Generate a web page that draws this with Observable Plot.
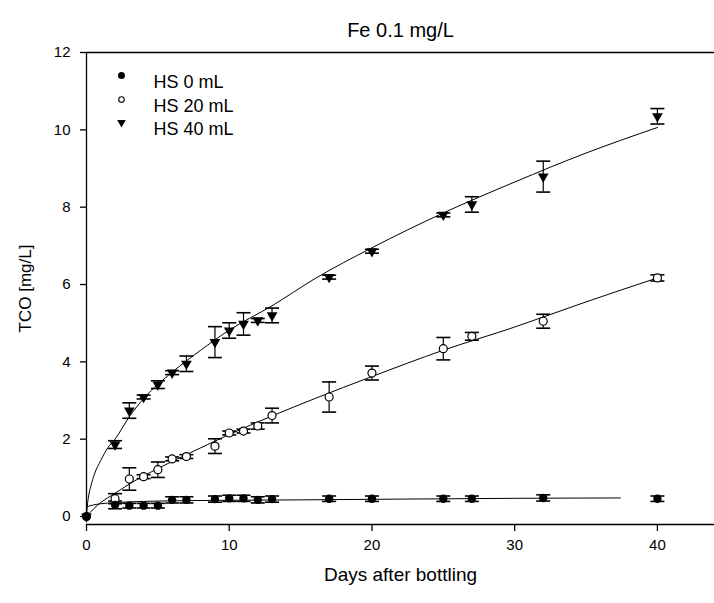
<!DOCTYPE html>
<html>
<head>
<meta charset="utf-8">
<script src="https://cdn.jsdelivr.net/npm/d3@7"></script>
<script src="https://cdn.jsdelivr.net/npm/@observablehq/plot@0.6"></script>
<style>
  html, body { margin: 0; padding: 0; background: white; }
  #chart { width: 714px; height: 603px; }
</style>
</head>
<body>
<div id="chart"></div>
<script>
// ---- data ----
const titleText = "Fe 0.1 mg/L";
const xLabel = "Days after bottling";
const yLabel = "TCO [mg/L]";
const seriesNames = ["HS 0 mL", "HS 20 mL", "HS 40 mL"];
const days = [0, 2, 3, 4, 5, 6, 7, 9, 10, 11, 12, 13, 17, 20, 25, 27, 32, 40];

const hs0 = [0, 0.30, 0.28, 0.28, 0.28, 0.43, 0.43, 0.45, 0.47, 0.47, 0.43, 0.45, 0.46, 0.46, 0.46, 0.46, 0.48, 0.46];
const hs0Err = [0, 0.10, 0.06, 0.06, 0.06, 0.08, 0.08, 0.08, 0.08, 0.08, 0.08, 0.08, 0.07, 0.07, 0.07, 0.07, 0.08, 0.07];

const hs20 = [0, 0.46, 0.97, 1.03, 1.21, 1.49, 1.55, 1.82, 2.16, 2.21, 2.34, 2.61, 3.09, 3.71, 4.34, 4.66, 5.05, 6.17];
const hs20Err = [0, 0.13, 0.29, 0.05, 0.20, 0.05, 0.05, 0.19, 0.05, 0.05, 0.08, 0.19, 0.39, 0.18, 0.29, 0.10, 0.18, 0.08];

const hs40 = [0, 1.86, 2.74, 3.09, 3.41, 3.72, 3.95, 4.51, 4.81, 4.98, 5.07, 5.20, 6.19, 6.86, 7.80, 8.07, 8.79, 10.35];
const hs40Err = [0, 0.10, 0.20, 0.05, 0.10, 0.05, 0.20, 0.40, 0.20, 0.29, 0.05, 0.19, 0.05, 0.05, 0.05, 0.20, 0.40, 0.20];

// fitted curves, points
const fit0X = [0, 0.5, 1, 2, 4, 7, 10, 15, 22, 30, 37.4];
const fit0Y = [0.25, 0.30, 0.33, 0.36, 0.39, 0.41, 0.42, 0.43, 0.45, 0.47, 0.48];
const fit20X = [0, 0.5, 1, 2, 3, 5, 7, 10, 13, 16, 20, 25, 30, 35, 40];
const fit20Y = [0, 0.20, 0.36, 0.60, 0.84, 1.24, 1.60, 2.12, 2.60, 3.05, 3.62, 4.30, 4.90, 5.55, 6.17];
const fit40X = [0, 0.05, 0.15, 0.3, 0.56, 1, 1.5, 2, 3, 4, 6, 8, 10, 13, 16, 20, 25, 30, 35, 40];
const fit40Y = [0, 0.25, 0.53, 0.78, 1.10, 1.45, 1.78, 2.00, 2.58, 3.05, 3.73, 4.30, 4.82, 5.45, 6.15, 6.95, 7.85, 8.65, 9.40, 10.06];

const xTicks = [0, 10, 20, 30, 40];
const yTicks = [0, 2, 4, 6, 8, 10, 12];

// ---- build tables ----
function table(vals, errs) {
  return days.map((d, i) => ({day: d, v: vals[i], e: errs[i]}));
}
const t0 = table(hs0, hs0Err);
const t20 = table(hs20, hs20Err);
const t40 = table(hs40, hs40Err);
const fit = (xs, ys) => xs.map((x, i) => ({x, y: ys[i]}));

const capSymbol = {
  draw(ctx) { ctx.moveTo(-7, 0); ctx.lineTo(7, 0); }
};
const triDown = {
  draw(ctx, size) {
    const y = Math.sqrt(size / (Math.sqrt(3) * 3));
    ctx.moveTo(0, 2 * y);
    ctx.lineTo(-Math.sqrt(3) * y, -y);
    ctx.lineTo(Math.sqrt(3) * y, -y);
    ctx.closePath();
  }
};

function errMarks(t) {
  const f = t.filter(d => d.e > 0);
  return [
    Plot.ruleX(f, {x: "day", y1: d => d.v - d.e, y2: d => d.v + d.e, stroke: "black", strokeWidth: 1.2}),
    Plot.dot(f, {x: "day", y: d => d.v + d.e, symbol: capSymbol, fill: "none", stroke: "black", strokeWidth: 1.6}),
    Plot.dot(f, {x: "day", y: d => d.v - d.e, symbol: capSymbol, fill: "none", stroke: "black", strokeWidth: 1.6})
  ];
}

const legendRows = [
  {name: seriesNames[0], dy: 23},
  {name: seriesNames[1], dy: 47},
  {name: seriesNames[2], dy: 70}
];

const FONT = "'Liberation Sans', Arial, sans-serif";

const chart = Plot.plot({
  width: 714,
  height: 603,
  marginLeft: 86,
  marginRight: 0,
  marginTop: 52,
  marginBottom: 87,
  style: {fontFamily: FONT, fontSize: "14px", color: "black", background: "white"},
  x: {domain: [0, 44]},
  y: {domain: [0, 12]},
  marks: [
    // frame lines
    Plot.ruleY([12], {stroke: "black", strokeWidth: 1.3}),
    Plot.ruleX([0], {stroke: "black", strokeWidth: 1.3}),
    Plot.ruleY([0], {stroke: "black", strokeWidth: 1.3, dy: 8}),
    Plot.axisX({ticks: xTicks, tickSize: 7, tickPadding: 8, dy: 8, fontSize: 15, label: null, strokeWidth: 1.3}),
    Plot.axisY({ticks: yTicks, tickSize: 6, tickPadding: 10, fontSize: 15, label: null, strokeWidth: 1.3}),
    // fitted lines
    Plot.line(fit(fit0X, fit0Y), {x: "x", y: "y", stroke: "black", strokeWidth: 1, curve: "monotone-x"}),
    Plot.line(fit(fit20X, fit20Y), {x: "x", y: "y", stroke: "black", strokeWidth: 1, curve: "monotone-x"}),
    Plot.line(fit(fit40X, fit40Y), {x: "x", y: "y", stroke: "black", strokeWidth: 1, curve: "monotone-x"}),
    // error bars
    ...errMarks(t0),
    ...errMarks(t20),
    ...errMarks(t40),
    // points
    Plot.dot(t40, {x: "day", y: "v", symbol: triDown, r: 4, fill: "black", stroke: "none"}),
    Plot.dot(t20, {x: "day", y: "v", symbol: "circle", r: 4, fill: "white", stroke: "black", strokeWidth: 1.2}),
    Plot.dot(t0, {x: "day", y: "v", symbol: "circle", r: 4.2, fill: "black", stroke: "none"}),
    // legend
    Plot.dot([legendRows[0]], {frameAnchor: "top-left", dx: 35, dy: legendRows[0].dy, symbol: "circle", r: 3.5, fill: "black"}),
    Plot.dot([legendRows[1]], {frameAnchor: "top-left", dx: 35, dy: legendRows[1].dy, symbol: "circle", r: 2.8, fill: "white", stroke: "black", strokeWidth: 1.1}),
    Plot.dot([legendRows[2]], {frameAnchor: "top-left", dx: 35, dy: legendRows[2].dy, symbol: triDown, r: 3.2, fill: "black"}),
    ...legendRows.map(r => Plot.text([r], {text: "name", frameAnchor: "top-left", dx: 67, dy: r.dy, textAnchor: "start", fontSize: 18})),
    // titles
    Plot.text([titleText], {frameAnchor: "top", dy: -30, fontSize: 20}),
    Plot.text([xLabel], {frameAnchor: "bottom", dy: 64, fontSize: 19}),
    Plot.text([yLabel], {frameAnchor: "left", dx: -61, dy: 4, rotate: -90, textAnchor: "middle", fontSize: 17})
  ]
});
document.getElementById("chart").appendChild(chart);
</script>
</body>
</html>
